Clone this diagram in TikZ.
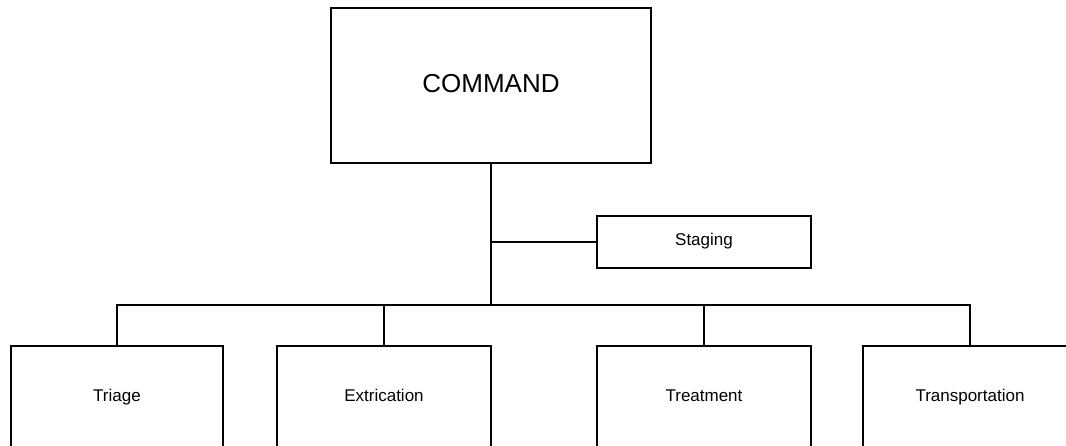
\documentclass[tikz,border=0pt]{standalone}
\usepackage{fontspec}
\setmainfont{Liberation Sans}
\begin{document}
\begin{tikzpicture}[x=1pt,y=-1pt,
  box/.style={draw=black,line width=2pt,fill=white,inner sep=0pt,font=\fontsize{17}{20}\selectfont,text height=11pt,text depth=4pt},
  link/.style={draw=black,line width=2pt}]
\clip (0,0) rectangle (1066,445);
\fill[white] (0,0) rectangle (1066,445);
\node[box,minimum width=320pt,minimum height=155pt,font=\fontsize{26}{30}\selectfont,text height=19pt,text depth=5pt] (cmd) at (491,85.5) {COMMAND};
\node[box,minimum width=214pt,minimum height=52pt] (staging) at (704,242) {Staging};
\node[box,minimum width=212pt,minimum height=104pt] (triage) at (117,398) {Triage};
\node[box,minimum width=214pt,minimum height=104pt] (extr) at (384,398) {Extrication};
\node[box,minimum width=214pt,minimum height=104pt] (treat) at (704,398) {Treatment};
\node[box,minimum width=214pt,minimum height=104pt] (transp) at (970,398) {Transportation};
\coordinate (bus) at (491,305);
\draw[link] (cmd.south) -- (bus);
\draw[link] (cmd.south |- staging.west) -- (staging.west);
\draw[link] (triage.north) |- (bus);
\draw[link] (extr.north) |- (bus);
\draw[link] (treat.north) |- (bus);
\draw[link] (transp.north) |- (bus);
\end{tikzpicture}
\end{document}
